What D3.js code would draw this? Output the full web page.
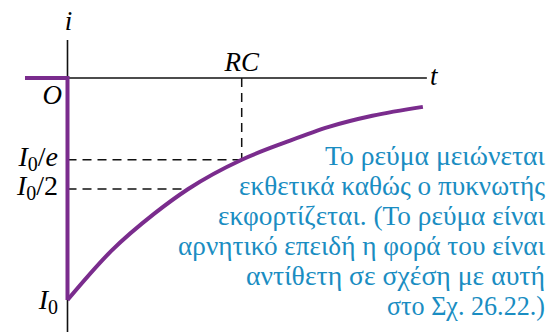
<!DOCTYPE html>
<html>
<head>
<meta charset="utf-8">
<script src="https://cdn.jsdelivr.net/npm/d3@7"></script>
</head>
<body style="margin:0;background:#fff">
<svg id="chart" width="553" height="332" style="display:block"></svg>
<script>
// Discharge current, time in units of RC, current in units of I0 (negative)
const timeRC   = [0, 0.25, 0.5, 0.693, 1, 1.25, 1.5, 1.75, 2.04];
const current  = [-1, -0.78, -0.61, -0.5, -0.368, -0.29, -0.22, -0.17, -0.13];
// Current before the switch closes (zero)
const preTime    = [-0.244, 0];
const preCurrent = [0, 0];
// Marked levels on the current axis
const levelNames  = ["I0/e", "I0/2", "I0"];
const levelValues = [-0.368, -0.5, -1];
const markTime = 1;  // t = RC
const caption = [
  "Το ρεύμα μειώνεται",
  "εκθετικά καθώς ο πυκνωτής",
  "εκφορτίζεται. (Το ρεύμα είναι",
  "αρνητικό επειδή η φορά του είναι",
  "αντίθετη σε σχέση με αυτή",
  "στο Σχ. 26.22.)"
];
// layout: set width of each caption line (right-aligned block)
const captionWidths = [220, 306, 327, 367, 299, 158];

const svg = d3.select("#chart");
const x = d3.scaleLinear().domain([0, 1]).range([67.5, 241.7]);
const y = d3.scaleLinear().domain([0, -1]).range([78, 300]);

const purple = "#7a2c8d";
const blue = "#1a8dc2";
const face = "Liberation Serif";

// axes
svg.append("line").attr("x1", x(0)).attr("x2", x(0))
  .attr("y1", y(0.171)).attr("y2", 332)
  .attr("stroke", "#111").attr("stroke-width", 1.6);
svg.append("line").attr("x1", x(0)).attr("x2", x(2.063))
  .attr("y1", y(0)).attr("y2", y(0))
  .attr("stroke", "#111").attr("stroke-width", 1.6);

// dashed guides
const dash = "9,6";
svg.append("line").attr("x1", x(markTime)).attr("x2", x(markTime))
  .attr("y1", y(0)).attr("y2", y(levelValues[0]))
  .attr("stroke", "#111").attr("stroke-width", 1.5).attr("stroke-dasharray", dash);
svg.append("line").attr("x1", x(0)).attr("x2", x(markTime))
  .attr("y1", y(levelValues[0])).attr("y2", y(levelValues[0]))
  .attr("stroke", "#111").attr("stroke-width", 1.5).attr("stroke-dasharray", dash);
svg.append("line").attr("x1", x(0)).attr("x2", x(Math.LN2))
  .attr("y1", y(levelValues[1])).attr("y2", y(levelValues[1]))
  .attr("stroke", "#111").attr("stroke-width", 1.5).attr("stroke-dasharray", dash);

// current trace
const trace = d3.line().x((d) => x(d[0])).y((d) => y(d[1]));
const prePts = preTime.map((t, i) => [t, preCurrent[i]]);
svg.append("path")
  .attr("d", trace([...prePts, [0, current[0]]]))
  .attr("fill", "none").attr("stroke", purple).attr("stroke-width", 4)
  .attr("stroke-linejoin", "miter");
svg.append("path")
  .attr("d", trace.curve(d3.curveMonotoneX)(timeRC.map((t, i) => [t, current[i]])))
  .attr("fill", "none").attr("stroke", purple).attr("stroke-width", 4);

// axis labels
const fs = 27;
function addLabel(px, py, anchor, s) {
  return svg.append("text").attr("x", px).attr("y", py).attr("text-anchor", anchor)
    .attr("font-family", face).attr("font-size", fs).attr("font-style", "italic").text(s);
}
addLabel(x(0) + 1, 30, "middle", "i");
addLabel(430, 85, "start", "t");
addLabel(62, 104, "end", "O");
addLabel(x(markTime), 71, "middle", "RC");

// level labels: I with subscript 0, then optional divisor
function levelLabel(name, py) {
  const t = svg.append("text").attr("x", 58).attr("y", py)
    .attr("text-anchor", "end").attr("font-family", face).attr("font-size", 28);
  t.append("tspan").attr("font-style", "italic").text("I");
  t.append("tspan").attr("font-size", 20).attr("dy", 5).text("0");
  const rest = name.slice(2);
  if (rest) {
    t.append("tspan").attr("dy", -5).text("/");
    const d = rest.slice(1);
    t.append("tspan").attr("font-style", d === "e" ? "italic" : "normal").text(d);
  }
  return t;
}
levelNames.forEach((n, i) => {
  levelLabel(n, y(levelValues[i]) + (n === "I0" ? 9 : 6));
});

// caption, one right-aligned line per text element
caption.forEach((s, i) => {
  svg.append("text")
    .attr("x", 545 - captionWidths[i]).attr("y", 165 + i * 30)
    .attr("font-family", face).attr("font-size", 26.5).attr("fill", blue)
    .attr("textLength", captionWidths[i]).attr("lengthAdjust", "spacingAndGlyphs")
    .text(s);
});
</script>
</body>
</html>
